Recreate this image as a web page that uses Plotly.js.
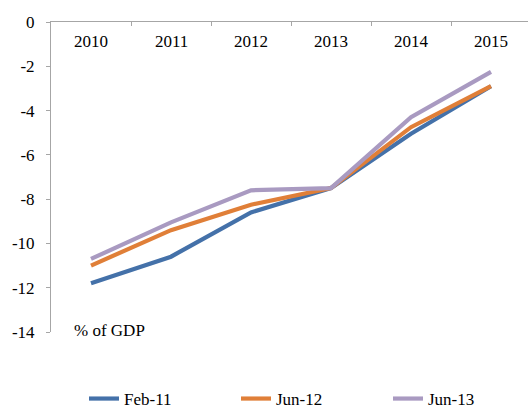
<!DOCTYPE html>
<html>
<head>
<meta charset="utf-8">
<script src="https://cdn.plot.ly/plotly-3.0.1.min.js"></script>
<style>
html, body { margin: 0; padding: 0; background: #fff; overflow: hidden; }
#chart { width: 528px; height: 408px; }
</style>
</head>
<body>
<div id="chart"></div>
<script>
const years = ['2010', '2011', '2012', '2013', '2014', '2015'];
const seriesNames = ['Feb-11', 'Jun-12', 'Jun-13'];
const feb11 = [-11.8, -10.6, -8.6, -7.5, -5.05, -2.9];
const jun12 = [-11.0, -9.4, -8.25, -7.5, -4.75, -2.9];
const jun13 = [-10.7, -9.05, -7.6, -7.5, -4.3, -2.25];
const yTicks = [0, -2, -4, -6, -8, -10, -12, -14];
const colors = ['#4471a9', '#e07f38', '#a99ac1'];

const FONT = 'Liberation Serif';
const seriesValues = [feb11, jun12, jun13];

const traces = seriesValues.map((vals, i) => ({
  type: 'scatter', mode: 'lines', name: seriesNames[i], x: years, y: vals,
  line: { color: colors[i], width: 4.2 }, hoverinfo: 'skip'
}));

const yearLabels = years.map((yr, i) => ({
  text: yr, xref: 'x', yref: 'paper', x: i, y: 1,
  xanchor: 'center', yanchor: 'middle', yshift: -19, showarrow: false,
  font: { family: FONT, size: 17, color: '#000000' }
}));

const layout = {
  width: 528, height: 408,
  margin: { l: 51, r: 0, t: 22, b: 76 },
  paper_bgcolor: '#ffffff', plot_bgcolor: '#ffffff',
  font: { family: FONT, size: 17, color: '#000000' },
  showlegend: true,
  legend: {
    orientation: 'h', xref: 'container', yref: 'container',
    x: 84 / 528, xanchor: 'left', y: 9 / 408, yanchor: 'middle',
    entrywidth: 107, entrywidthmode: 'pixels',
    bgcolor: 'rgba(0,0,0,0)',
    font: { family: FONT, size: 17, color: '#000000' }
  },
  xaxis: {
    type: 'category', side: 'top', range: [-0.5, 5.4625],
    showline: true, linecolor: '#a6a6a6', linewidth: 1,
    ticks: 'inside', tickson: 'boundaries', ticklen: 4, tickcolor: '#a6a6a6',
    showticklabels: false, showgrid: false, zeroline: false, fixedrange: true
  },
  yaxis: {
    range: [-14, 0], tickvals: yTicks, ticktext: yTicks.map(v => String(v)),
    showline: true, linecolor: '#a6a6a6', linewidth: 1,
    ticks: 'outside', ticklen: 4, tickcolor: '#a6a6a6', ticklabelstandoff: 8,
    showgrid: false, zeroline: false, fixedrange: true
  },
  annotations: yearLabels.concat([{
    text: '% of GDP', xref: 'paper', yref: 'y', x: 21 / 477, y: -14,
    xanchor: 'left', yanchor: 'middle', yshift: 2, showarrow: false,
    font: { family: FONT, size: 17, color: '#000000' }
  }])
};

Plotly.newPlot('chart', traces, layout, { staticPlot: true, displayModeBar: false });
</script>
</body>
</html>
